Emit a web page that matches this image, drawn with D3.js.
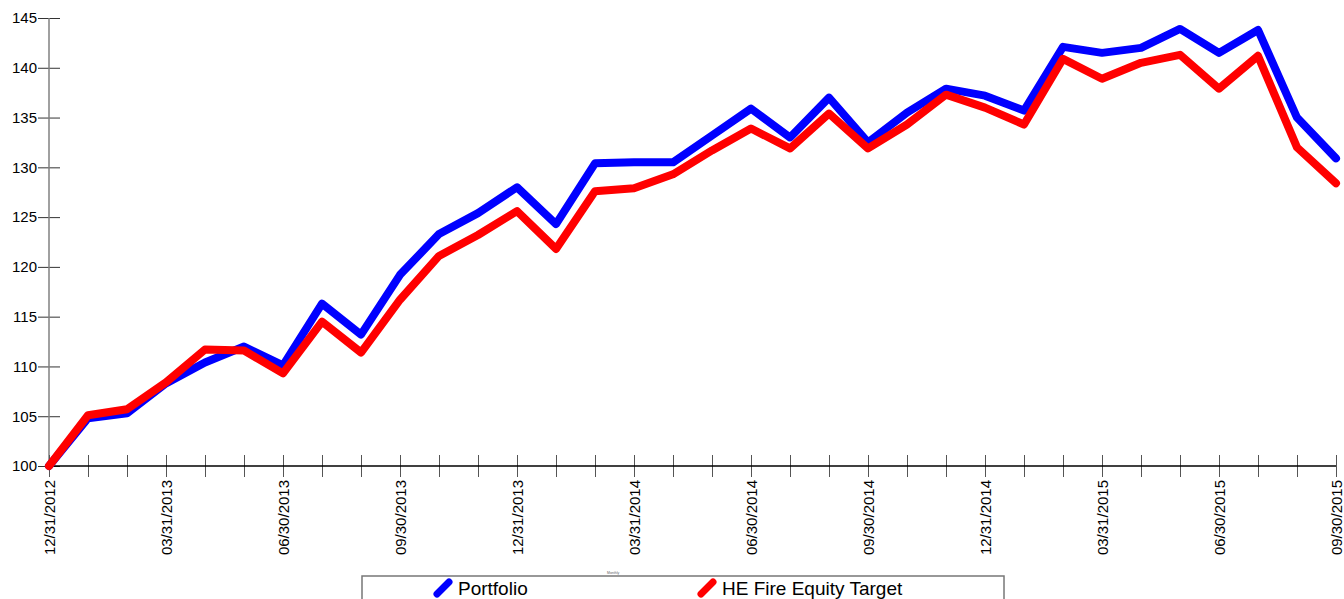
<!DOCTYPE html>
<html>
<head>
<meta charset="utf-8">
<script src="https://cdn.jsdelivr.net/npm/d3@7"></script>
<style>
  body { margin: 0; background: #fff; }
  text { font-family: "Liberation Sans", Arial, sans-serif; }
</style>
</head>
<body>
<script>
// Month-end dates
const dates = [
    "12/31/2012", "01/31/2013", "02/28/2013", "03/31/2013", "04/30/2013", "05/31/2013",
    "06/30/2013", "07/31/2013", "08/31/2013", "09/30/2013", "10/31/2013", "11/30/2013",
    "12/31/2013", "01/31/2014", "02/28/2014", "03/31/2014", "04/30/2014", "05/31/2014",
    "06/30/2014", "07/31/2014", "08/31/2014", "09/30/2014", "10/31/2014", "11/30/2014",
    "12/31/2014", "01/31/2015", "02/28/2015", "03/31/2015", "04/30/2015", "05/31/2015",
    "06/30/2015", "07/31/2015", "08/31/2015", "09/30/2015"
];

const portfolio = [
    100, 104.8, 105.3, 108.3, 110.4, 112.0, 110.1, 116.3, 113.2, 119.2, 123.3, 125.4,
    128.0, 124.3, 130.4, 130.5, 130.5, 133.2, 135.9, 133.0, 137.0, 132.5, 135.5, 137.9,
    137.2, 135.7, 142.1, 141.5, 142.0, 143.9, 141.5, 143.8, 135.0, 130.9
];

const target = [
    100, 105.1, 105.7, 108.4, 111.7, 111.6, 109.3, 114.5, 111.4, 116.7, 121.1, 123.2,
    125.6, 121.8, 127.6, 127.9, 129.3, 131.7, 133.9, 131.9, 135.4, 131.9, 134.3, 137.3,
    136.0, 134.3, 140.9, 138.9, 140.5, 141.3, 137.9, 141.2, 132.0, 128.4
];

const yTicks = [100, 105, 110, 115, 120, 125, 130, 135, 140, 145];
const seriesNames = ["Portfolio", "HE Fire Equity Target"];
const seriesColors = ["#0000ff", "#ff0000"];

const width = 1344, height = 599;
const margin = { top: 18, right: 8, bottom: 133, left: 49 };

const svg = d3.select("body").append("svg")
    .attr("width", width)
    .attr("height", height);

// Scales
const x = d3.scalePoint()
    .domain(dates)
    .range([margin.left, width - margin.right]);

const y = d3.scaleLinear()
    .domain([100, 145])
    .range([height - margin.bottom, margin.top]);

// Y axis
const yAxis = svg.append("g")
    .attr("transform", `translate(${margin.left},0)`)
    .call(d3.axisLeft(y).tickValues(yTicks).tickSize(11).tickPadding(1));
yAxis.select(".domain").remove();
yAxis.append("line")
    .attr("y1", y(100)).attr("y2", y(145))
    .attr("stroke", "#808080").attr("stroke-width", 1.5);
yAxis.selectAll(".tick line")
    .attr("x1", 11)
    .attr("stroke", "#333");
yAxis.selectAll(".tick text")
    .style("font-size", "15px")
    .attr("fill", "#000");

// X axis
const xAxis = svg.append("g")
    .attr("transform", `translate(0,${y(100)})`)
    .call(d3.axisBottom(x).tickSize(11).tickFormat((d, i) => i % 3 === 0 ? d : ""));
xAxis.select(".domain").remove();
xAxis.append("line")
    .attr("x1", x.range()[0]).attr("x2", x.range()[1])
    .attr("stroke", "#000").attr("stroke-width", 1.5);
xAxis.selectAll(".tick line")
    .attr("y1", -11)
    .attr("stroke", "#555");
xAxis.selectAll(".tick text")
    .attr("transform", "rotate(-90)")
    .attr("text-anchor", "end")
    .attr("x", -14)
    .attr("y", 0)
    .attr("dy", "0.35em")
    .style("font-size", "15px")
    .attr("fill", "#000");

// Lines
const line = d3.line()
    .x((d, i) => x(dates[i]))
    .y(d => y(d));

[portfolio, target].forEach((values, k) => {
    svg.append("path")
        .datum(values)
        .attr("fill", "none")
        .attr("stroke", seriesColors[k])
        .attr("stroke-width", 8)
        .attr("stroke-linejoin", "round")
        .attr("stroke-linecap", "round")
        .attr("d", line);
});

// Legend
svg.append("text")
    .attr("x", 607).attr("y", 574)
    .style("font-size", "3.5px")
    .attr("fill", "#666")
    .text("Monthly");

svg.append("rect")
    .attr("x", 362).attr("y", 576)
    .attr("width", 642).attr("height", 40)
    .attr("fill", "none")
    .attr("stroke", "#777")
    .attr("stroke-width", 1.5);

const legendX = [437, 701];
seriesNames.forEach((name, k) => {
    const g = svg.append("g").attr("transform", `translate(${legendX[k]},0)`);
    g.append("line")
        .attr("x1", 0).attr("y1", 594)
        .attr("x2", 12).attr("y2", 582)
        .attr("stroke", seriesColors[k])
        .attr("stroke-width", 7)
        .attr("stroke-linecap", "round");
    g.append("text")
        .attr("x", 21).attr("y", 595)
        .style("font-size", "19px")
        .attr("fill", "#000")
        .text(name);
});
</script>
</body>
</html>
